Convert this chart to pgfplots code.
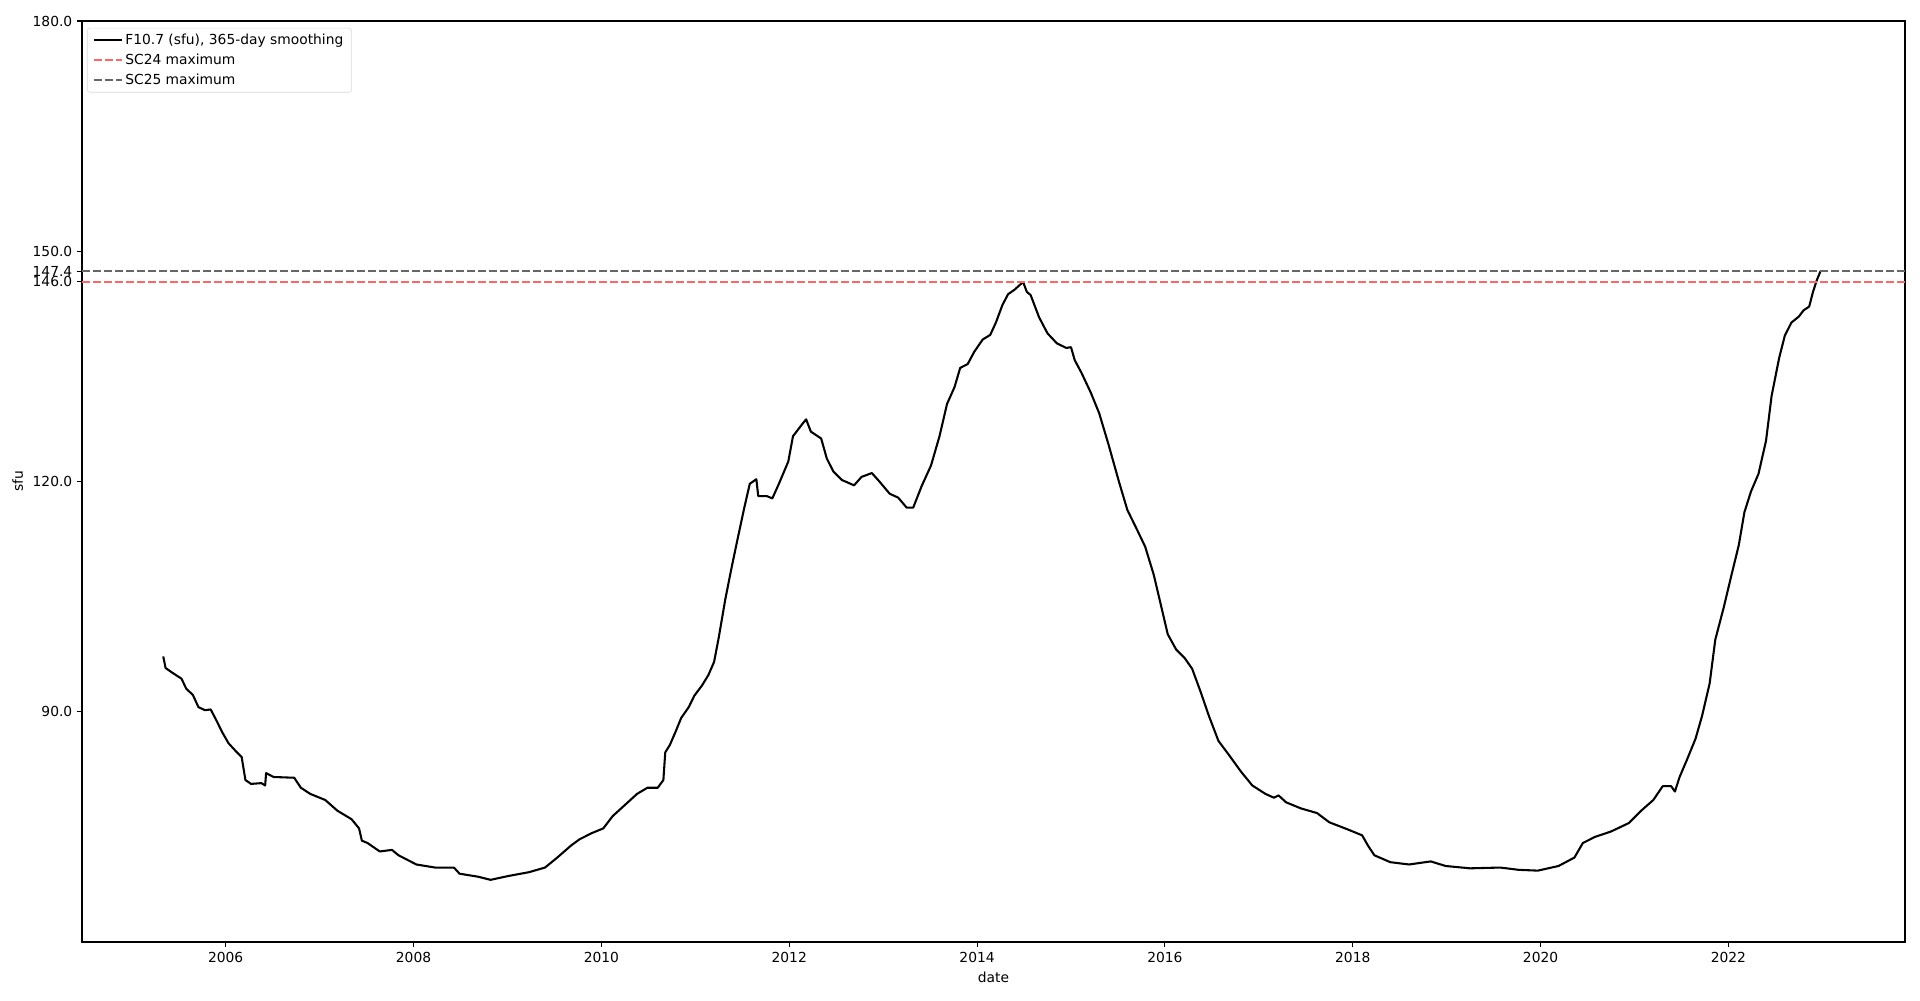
\documentclass[border=0pt]{standalone}
\usepackage{fontspec}
\setmainfont{DejaVu Sans}
\usepackage{pgfplots}
\pgfplotsset{compat=1.18}
\definecolor{sctwofour}{RGB}{255,102,102}
\definecolor{sctwofive}{RGB}{102,102,102}
\begin{document}
\begin{tikzpicture}
\begin{axis}[
  scale only axis,
  width=18.23in, height=9.21in,
  xmin=2004.47, xmax=2023.88, ymin=60, ymax=180,
  xtick={2006,2008,...,2022},
  ytick={90,120,146,147.4,150,180},
  yticklabel style={/pgf/number format/.cd, fixed, fixed zerofill, precision=1},
  xticklabel style={/pgf/number format/.cd, 1000 sep={}},
  /pgf/number format/assume math mode=true,
  tick align=outside, major tick length=3.5pt,
  tick style={black, line width=0.8pt},
  axis line style={line width=0.8pt},
  xtick pos=bottom, ytick pos=left,
  minor tick num=0,
  xlabel={date}, ylabel={sfu},
  font=\fontsize{10}{12}\selectfont,
  ticklabel style={font=\fontsize{10}{12}\selectfont},
  legend cell align=left,
  legend style={at={(0,1)}, anchor=north west, xshift=3.6pt, yshift=-5pt,
    draw=black!15, rounded corners=2pt, font=\fontsize{10}{12}\selectfont,
    row sep=1.5pt, inner xsep=4pt, inner ysep=2pt},
  legend image code/.code={\draw[#1] (0pt,0pt) -- (20pt,0pt);},
]
\addplot[black, line width=1.5pt, line join=round] coordinates {
(2005.335,97.2) (2005.36,95.7) (2005.43,95.1) (2005.53,94.3) (2005.58,93.0)
(2005.65,92.2) (2005.71,90.6) (2005.78,90.2) (2005.84,90.3) (2005.90,88.9)
(2005.96,87.4) (2006.03,85.9) (2006.12,84.7) (2006.17,84.1) (2006.21,81.1)
(2006.27,80.6) (2006.38,80.7) (2006.42,80.4) (2006.43,82.0) (2006.51,81.5)
(2006.73,81.4) (2006.80,80.1) (2006.90,79.3) (2007.06,78.5) (2007.19,77.1)
(2007.34,76.0) (2007.42,74.8) (2007.45,73.2) (2007.51,72.9) (2007.64,71.8)
(2007.77,72.0) (2007.84,71.3) (2008.03,70.1) (2008.23,69.7) (2008.43,69.7)
(2008.49,68.9) (2008.69,68.5) (2008.82,68.1) (2009.01,68.6) (2009.23,69.1)
(2009.40,69.7) (2009.53,71.0) (2009.68,72.6) (2009.77,73.4) (2009.90,74.2)
(2010.02,74.8) (2010.12,76.4) (2010.38,79.3) (2010.49,80.1) (2010.60,80.1)
(2010.66,81.1) (2010.68,84.7) (2010.73,85.7) (2010.79,87.4) (2010.85,89.2)
(2010.93,90.6) (2010.99,92.1) (2011.07,93.4) (2011.14,94.8) (2011.20,96.5)
(2011.25,99.7) (2011.32,104.7) (2011.39,109.0) (2011.45,112.5) (2011.52,116.5)
(2011.58,119.7) (2011.65,120.3) (2011.67,118.1) (2011.76,118.1) (2011.82,117.8)
(2011.89,119.7) (2011.99,122.6) (2012.04,125.9) (2012.14,127.5) (2012.18,128.1)
(2012.23,126.5) (2012.34,125.6) (2012.40,123.0) (2012.47,121.3) (2012.56,120.2)
(2012.69,119.5) (2012.77,120.6) (2012.88,121.1) (2012.96,120.0) (2013.07,118.4)
(2013.16,117.9) (2013.25,116.6) (2013.32,116.6) (2013.41,119.4) (2013.51,122.1)
(2013.60,125.9) (2013.68,130.1) (2013.76,132.3) (2013.82,134.8) (2013.90,135.3)
(2013.97,136.9) (2014.06,138.5) (2014.14,139.1) (2014.20,140.7) (2014.27,143.0)
(2014.33,144.4) (2014.40,145.0) (2014.49,146.0) (2014.53,144.7) (2014.57,144.3)
(2014.66,141.4) (2014.75,139.3) (2014.85,138.0) (2014.95,137.4) (2015.00,137.5)
(2015.04,135.8) (2015.11,134.2) (2015.21,131.6) (2015.30,128.9) (2015.40,124.8)
(2015.51,120.0) (2015.60,116.3) (2015.70,113.8) (2015.79,111.5) (2015.88,107.9)
(2015.94,104.8) (2016.03,100.1) (2016.12,98.1) (2016.21,97.0) (2016.29,95.6)
(2016.38,92.6) (2016.47,89.4) (2016.57,86.2) (2016.68,84.4) (2016.81,82.2)
(2016.93,80.4) (2017.07,79.3) (2017.16,78.8) (2017.21,79.1) (2017.29,78.2)
(2017.45,77.4) (2017.62,76.8) (2017.75,75.6) (2017.94,74.7) (2018.10,73.9)
(2018.16,72.6) (2018.23,71.3) (2018.40,70.4) (2018.60,70.1) (2018.83,70.5)
(2018.99,69.9) (2019.25,69.6) (2019.57,69.7) (2019.77,69.4) (2019.97,69.3)
(2020.19,69.9) (2020.36,71.0) (2020.45,72.9) (2020.58,73.7) (2020.75,74.4)
(2020.94,75.5) (2021.07,77.1) (2021.20,78.5) (2021.30,80.3) (2021.39,80.3)
(2021.43,79.6) (2021.48,81.5) (2021.56,83.8) (2021.65,86.5) (2021.72,89.5)
(2021.80,93.7) (2021.86,99.4) (2021.95,103.6) (2022.03,107.7) (2022.11,111.7)
(2022.17,116.0) (2022.24,118.7) (2022.32,121.0) (2022.40,125.3) (2022.46,131.2)
(2022.54,136.1) (2022.60,139.0) (2022.67,140.7) (2022.75,141.5) (2022.80,142.3)
(2022.86,142.8) (2022.90,144.7) (2022.94,146.2) (2022.98,147.4)
};
\addlegendentry{F10.7 (sfu), 365-day smoothing}
\addplot[sctwofour, line width=1.5pt, dash pattern=on 5.55pt off 2.4pt] coordinates {(2004.47,146) (2023.88,146)};
\addlegendentry{SC24 maximum}
\addplot[sctwofive, line width=1.5pt, dash pattern=on 5.55pt off 2.4pt] coordinates {(2004.47,147.4) (2023.88,147.4)};
\addlegendentry{SC25 maximum}
\end{axis}
\pgfresetboundingbox
\path ([xshift=-0.82in,yshift=-0.58in]current axis.south west) rectangle ([xshift=0.15in,yshift=0.21in]current axis.north east);
\end{tikzpicture}
\end{document}
